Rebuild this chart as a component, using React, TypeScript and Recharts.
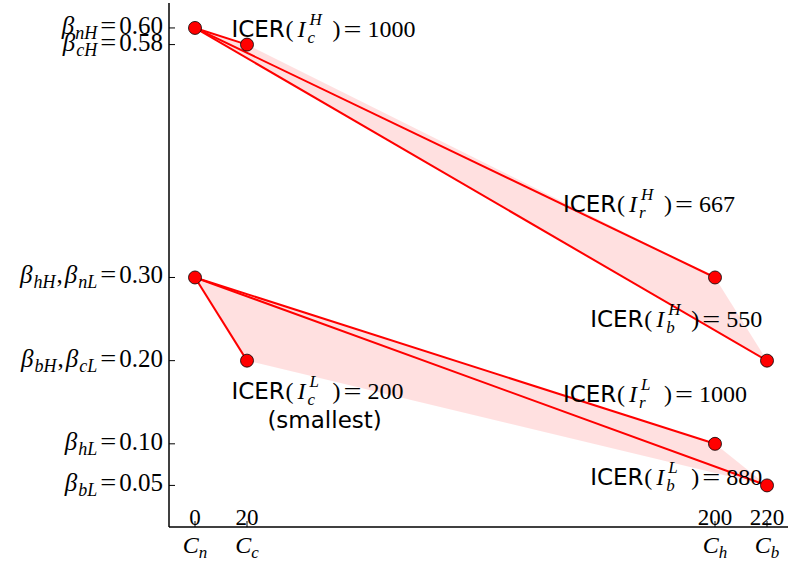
import React from 'react';
import {
  ComposedChart,
  XAxis,
  YAxis,
  Line,
  Scatter,
  ReferenceDot,
} from 'recharts';

// Costs of the four interventions (n, c, h, b)
const costs = [0, 20, 200, 220];
const costNames = ['n', 'c', 'h', 'b'];

// Infection probabilities under each intervention, high- and low-risk groups
const betaHigh = [0.6, 0.58, 0.3, 0.2];
const betaLow = [0.3, 0.2, 0.1, 0.05];

// Y tick values and their symbol subscripts
const yTicks = [0.05, 0.1, 0.2, 0.3, 0.58, 0.6];
const yTickNames = [['bL'], ['hL'], ['bH', 'cL'], ['hH', 'nL'], ['cH'], ['nH']];

// ICER annotations: intervention subscript, group, value, anchor (cost, beta)
const icerSub = ['c', 'r', 'b', 'c', 'r', 'b'];
const icerGroup = ['H', 'H', 'H', 'L', 'L', 'L'];
const icerValue = [1000, 667, 550, 200, 1000, 880];
const icerNote = ['', '', '', '(smallest)', '', ''];
const icerAtCost = [14, 141.5, 152, 14, 141.5, 152];
const icerAtBeta = [0.589, 0.379, 0.24, 0.154, 0.15, 0.05];

const MATH = "'Liberation Serif', 'DejaVu Serif', serif";
const SANS = "'DejaVu Sans', sans-serif";
const RED = '#ff0000';

const pts = (ys: number[]) => costs.map((x, i) => ({ x, y: ys[i] }));
const highPts = pts(betaHigh);
const lowPts = pts(betaLow);

// hull order for the shaded regions
const highHull = [highPts[0], highPts[1], highPts[2], highPts[3]];
const lowHull = [lowPts[0], lowPts[2], lowPts[3], lowPts[1]];

const segments = (p: { x: number; y: number }[]) => [1, 2, 3].map((k) => [p[0], p[k]]);
const allSegments = [...segments(highPts), ...segments(lowPts)];

const icerLabels = icerValue.map((v, i) => ({
  x: icerAtCost[i],
  y: icerAtBeta[i],
  sub: icerSub[i],
  sup: icerGroup[i],
  value: v,
  note: icerNote[i],
}));

const BetaTick = (props: any) => {
  const { x, y, payload } = props;
  const names = yTickNames[yTicks.indexOf(payload.value)] || [];
  const parts: React.ReactNode[] = [];
  names.forEach((s, i) => {
    if (i > 0)
      parts.push(
        <tspan key={'c' + i} dy={-5} dx={1}>
          ,
        </tspan>
      );
    parts.push(
      <tspan key={'b' + i} fontStyle="italic" dx={i > 0 ? 2 : 0}>
        β
      </tspan>
    );
    parts.push(
      <tspan key={'s' + i} fontStyle="italic" fontSize={18} dy={5} dx={1}>
        {s}
      </tspan>
    );
  });
  return (
    <g>
      <line x1={x} x2={x + 6} y1={y} y2={y} stroke="#000" strokeWidth={1} />
      <text
        x={x - 6}
        y={y + 6}
        textAnchor="end"
        fontFamily={MATH}
        fontSize={25}
        fill="#000"
      >
        {parts}
        <tspan dy={-5} dx={3} textLength={16} lengthAdjust="spacingAndGlyphs">
          =
        </tspan>
        <tspan dx={3}>{payload.value.toFixed(2)}</tspan>
      </text>
    </g>
  );
};

const CostTick = (props: any) => {
  const { x, y, payload } = props;
  const name = costNames[costs.indexOf(payload.value)];
  return (
    <g>
      <line x1={x} x2={x} y1={y} y2={y - 6} stroke="#000" strokeWidth={1} />
      <text x={x} y={y - 2} textAnchor="middle" fontFamily={MATH} fontSize={23} fill="#000">
        {payload.value}
      </text>
      <text x={x} y={y + 26} textAnchor="middle" fontFamily={MATH} fontSize={24} fill="#000">
        <tspan fontStyle="italic">C</tspan>
        <tspan fontStyle="italic" fontSize={17} dy={5}>
          {name}
        </tspan>
      </text>
    </g>
  );
};

const TopTick = (props: any) => {
  const { x, y } = props;
  return <line x1={x} x2={x} y1={y} y2={y + 6} stroke="#000" strokeWidth={1} />;
};

const RightTick = (props: any) => {
  const { x, y } = props;
  return <line x1={x} x2={x - 6} y1={y} y2={y} stroke="#000" strokeWidth={1} />;
};

const IcerText = (props: any) => {
  const { cx, cy, label } = props;
  const x0 = cx;
  const y0 = cy;
  return (
    <g fill="#000">
      <text x={x0} y={y0} fontFamily={SANS} fontSize={23}>
        ICER
      </text>
      <text x={x0 + 54} y={y0} fontFamily={MATH} fontSize={24}>
        (
      </text>
      <text x={x0 + 66} y={y0} fontFamily={MATH} fontSize={24} fontStyle="italic">
        I
      </text>
      <text x={x0 + 76} y={y0 + 6} fontFamily={MATH} fontSize={17} fontStyle="italic">
        {label.sub}
      </text>
      <text x={x0 + 78} y={y0 - 12} fontFamily={MATH} fontSize={17} fontStyle="italic">
        {label.sup}
      </text>
      <text x={x0 + 101} y={y0} fontFamily={MATH} fontSize={24}>
        )
      </text>
      <text
        x={x0 + 112}
        y={y0}
        fontFamily={MATH}
        fontSize={24}
        textLength={18}
        lengthAdjust="spacingAndGlyphs"
      >
        =
      </text>
      <text x={x0 + 136} y={y0} fontFamily={MATH} fontSize={24}>
        {label.value}
      </text>
      {label.note ? (
        <text x={x0 + 36} y={y0 + 29} fontFamily={SANS} fontSize={23}>
          {label.note}
        </text>
      ) : null}
    </g>
  );
};

const HullShape = (props: any) => {
  const { points } = props;
  if (!points || !points.length) return <g />;
  return (
    <polygon
      points={points.map((p: any) => `${p.x},${p.y}`).join(' ')}
      fill={RED}
      fillOpacity={0.12}
      stroke="none"
    />
  );
};

const Dot = (props: any) => {
  const { cx, cy } = props;
  return <circle cx={cx} cy={cy} r={6.5} fill={RED} stroke="#000" strokeWidth={0.8} />;
};

const Empty = () => <g />;

export default function App() {
  return (
    <div
      style={{
        position: 'absolute',
        left: 0,
        top: 0,
        width: 788,
        height: 565,
        overflow: 'hidden',
        background: '#fff',
      }}
    >
      <ComposedChart
        width={800}
        height={565}
        margin={{ top: 3, right: 7, bottom: 0, left: 0 }}
      >
        <XAxis
          dataKey="x"
          type="number"
          domain={[-10, 230]}
          ticks={costs}
          allowDataOverflow
          height={38}
          tickSize={0}
          tickMargin={0}
          tickLine={false}
          axisLine={{ stroke: '#000', strokeWidth: 1.5 }}
          tick={CostTick}
          interval={0}
        />
        <XAxis
          xAxisId="top"
          orientation="top"
          dataKey="x"
          type="number"
          domain={[-10, 230]}
          ticks={costs}
          allowDataOverflow
          height={0}
          tickSize={0}
          tickMargin={0}
          tickLine={false}
          axisLine={{ stroke: '#000', strokeWidth: 1.5 }}
          tick={TopTick}
          interval={0}
        />
        <YAxis
          type="number"
          domain={[0, 0.63]}
          ticks={yTicks}
          allowDataOverflow
          width={169}
          tickSize={0}
          tickMargin={0}
          tickLine={false}
          axisLine={{ stroke: '#000', strokeWidth: 1.5 }}
          tick={BetaTick}
          interval={0}
        />
        <YAxis
          yAxisId="right"
          orientation="right"
          type="number"
          domain={[0, 0.63]}
          ticks={yTicks}
          allowDataOverflow
          width={0}
          tickSize={0}
          tickMargin={0}
          tickLine={false}
          axisLine={{ stroke: '#000', strokeWidth: 1.5 }}
          tick={RightTick}
          interval={0}
        />

        <Scatter
          data={highHull}
          dataKey="y"
          shape={Empty}
          line={HullShape}
          lineType="joint"
          isAnimationActive={false}
        />
        <Scatter
          data={lowHull}
          dataKey="y"
          shape={Empty}
          line={HullShape}
          lineType="joint"
          isAnimationActive={false}
        />

        {icerLabels.map((lab, i) => (
          <ReferenceDot
            key={'icer' + i}
            x={lab.x}
            y={lab.y}
            r={0}
            shape={(p: any) => <IcerText {...p} label={lab} />}
          />
        ))}

        {allSegments.map((seg, i) => (
          <Line
            key={'seg' + i}
            data={seg}
            dataKey="y"
            type="linear"
            stroke={RED}
            strokeWidth={2}
            dot={false}
            activeDot={false}
            isAnimationActive={false}
          />
        ))}

        <Scatter data={highPts} dataKey="y" shape={Dot} isAnimationActive={false} />
        <Scatter data={lowPts} dataKey="y" shape={Dot} isAnimationActive={false} />
      </ComposedChart>
    </div>
  );
}
